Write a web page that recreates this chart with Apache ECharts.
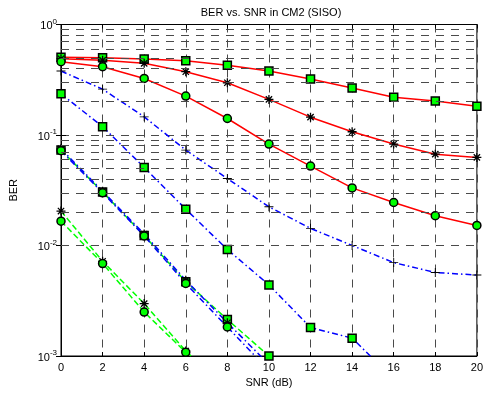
<!DOCTYPE html>
<html>
<head>
<meta charset="utf-8">
<script src="https://cdn.jsdelivr.net/npm/echarts@6/dist/echarts.min.js"></script>
<style>
  html, body { margin: 0; padding: 0; background: #fff; }
  #chart { width: 486px; height: 396px; }
</style>
</head>
<body>
<div id="chart"></div>
<script>
// SNR points (dB)
const snr = [0, 2, 4, 6, 8, 10, 12, 14, 16, 18, 20];

// Red solid curves
const redSquare = [0.505, 0.50, 0.487, 0.47, 0.427, 0.379, 0.321, 0.266, 0.220, 0.203, 0.182];
const redStar   = [0.49, 0.475, 0.445, 0.374, 0.297, 0.21, 0.145, 0.107, 0.0828, 0.0671, 0.0627];
const redCircle = [0.46, 0.415, 0.325, 0.225, 0.141, 0.0827, 0.0523, 0.0332, 0.0245, 0.0186, 0.0152];

// Blue dash-dot curves
const bluePlus   = [0.379, 0.26, 0.146, 0.073, 0.0404, 0.0224, 0.0143, 0.0100, 0.0070, 0.0057, 0.0054];
const blueSquare = [0.236, 0.119, 0.0509, 0.0213, 0.0092, 0.0044, 0.00181, 0.00145, 0.00062];
const blueStar   = [0.075, 0.031, 0.0127, 0.00485, 0.0020, 0.00084];
const blueCircle = [0.072, 0.030, 0.0122, 0.00453, 0.00183, 0.00074];

// Green dashed curves
const greenSquare = [0.073, 0.0305, 0.0123, 0.0047, 0.00214, 0.0010];
const greenStar   = [0.0205, 0.0072, 0.00298, 0.00111, 0.0005];
const greenCircle = [0.0166, 0.00687, 0.0025, 0.00108, 0.00046];

// Log-axis minor gridline positions (2..9 within each decade)
const minorGrid = [];
[0.001, 0.01, 0.1].forEach(d => { for (let k = 2; k <= 9; k++) minorGrid.push(+(k * d).toPrecision(3)); });

const ASTERISK = 'path://M-1.4,-10L1.4,-10L1.4,10L-1.4,10Z' +
  'M-10,-1.4L10,-1.4L10,1.4L-10,1.4Z' +
  'M-6,-8L8,6L6,8L-8,-6Z' +
  'M-8,6L6,-8L8,-6L-6,8Z';
const PLUS = 'path://M-1,-10L1,-10L1,10L-1,10Z M-10,-1L10,-1L10,1L-10,1Z';

const GRID_DASH = [8, 7];
const GRID_COLOR = '#4a4a4a';
const FONT = 'Liberation Sans, Arial, sans-serif';

function pairs(vals) { return vals.map((v, i) => [snr[i], v]); }

function makeSeries(vals, color, dash, marker) {
  const s = {
    type: 'line',
    data: pairs(vals),
    clip: true,
    lineStyle: { color: color, width: 1.5, type: dash },
    itemStyle: { color: '#00ff00', borderColor: '#000', borderWidth: 1.5 },
    symbolSize: 8,
    showSymbol: true,
    animation: false,
    z: 3
  };
  if (marker === 'square') { s.symbol = 'rect'; s.symbolSize = 8; }
  else if (marker === 'circle') { s.symbol = 'circle'; s.symbolSize = 8; }
  else if (marker === 'star') {
    s.symbol = ASTERISK; s.symbolSize = 9;
    s.itemStyle = { color: '#000', borderWidth: 0 };
  } else if (marker === 'plus') {
    s.symbol = PLUS; s.symbolSize = 9;
    s.itemStyle = { color: '#000', borderWidth: 0 };
  }
  return s;
}

const DASHDOT = [6, 3, 1.5, 3];
const DASHED = [6, 3];

const series = [
  {
    type: 'line', data: [], silent: true, animation: false, z: 1,
    markLine: {
      silent: true, symbol: ['none', 'none'], label: { show: false },
      animation: false,
      lineStyle: { type: GRID_DASH, color: GRID_COLOR, width: 1 },
      data: minorGrid.map(v => ({ yAxis: v }))
    }
  },
  makeSeries(redSquare, '#ff0000', 'solid', 'square'),
  makeSeries(redStar, '#ff0000', 'solid', 'star'),
  makeSeries(redCircle, '#ff0000', 'solid', 'circle'),
  makeSeries(bluePlus, '#0000ff', DASHDOT, 'plus'),
  makeSeries(blueSquare, '#0000ff', DASHDOT, 'square'),
  makeSeries(greenSquare, '#00ff00', DASHED, 'square'),
  makeSeries(blueStar, '#0000ff', DASHDOT, 'star'),
  makeSeries(blueCircle, '#0000ff', DASHDOT, 'circle'),
  makeSeries(greenStar, '#00ff00', DASHED, 'star'),
  makeSeries(greenCircle, '#00ff00', DASHED, 'circle')
];

const chart = echarts.init(document.getElementById('chart'), null, { renderer: 'canvas' });
chart.setOption({
  backgroundColor: '#fff',
  animation: false,
  title: {
    text: 'BER vs. SNR in CM2 (SISO)',
    left: 266, top: 2, textAlign: 'center',
    textStyle: { fontFamily: FONT, fontSize: 11, fontWeight: 'normal', color: '#000' }
  },
  grid: { left: 56, right: 8, top: 24.5, bottom: 40, show: true, borderColor: '#000', borderWidth: 1 },
  xAxis: [{
    type: 'value', min: 0, max: 20, interval: 2,
    name: 'SNR (dB)', nameLocation: 'middle', nameGap: 21,
    nameTextStyle: { fontFamily: FONT, fontSize: 11, color: '#000' },
    axisLine: { show: true, lineStyle: { color: '#000', width: 1 } },
    axisTick: { show: true, inside: true, length: 4, lineStyle: { color: '#000' } },
    axisLabel: { fontFamily: FONT, fontSize: 11, color: '#000', margin: 6 },
    splitLine: { show: true, lineStyle: { type: GRID_DASH, color: GRID_COLOR, width: 1 } }
  }, {
    type: 'value', min: 0, max: 20, interval: 2, position: 'top',
    axisLine: { show: true, lineStyle: { color: '#000', width: 1 } },
    axisTick: { show: true, inside: true, length: 4, lineStyle: { color: '#000' } },
    axisLabel: { show: false }, splitLine: { show: false }
  }],
  yAxis: [{
    type: 'log', logBase: 10, min: 0.001, max: 1, splitNumber: 3,
    name: 'BER', nameLocation: 'middle', nameGap: 42, nameRotate: 90,
    nameTextStyle: { fontFamily: FONT, fontSize: 11, color: '#000' },
    axisLine: { show: true, lineStyle: { color: '#000', width: 1 } },
    axisTick: { show: true, inside: true, length: 5, lineStyle: { color: '#000' } },
    axisLabel: {
      margin: 4,
      formatter: v => '{b|10}{s|' + Math.round(Math.log10(v)) + '}',
      rich: {
        b: { fontFamily: FONT, fontSize: 11, color: '#000', lineHeight: 14, verticalAlign: 'middle', padding: [3, 0, 0, 0] },
        s: { fontFamily: FONT, fontSize: 8, color: '#000', lineHeight: 14, verticalAlign: 'middle', padding: [0, 0, 6, 0] }
      }
    },
    splitLine: { show: true, lineStyle: { type: GRID_DASH, color: GRID_COLOR, width: 1 } }
  }, {
    type: 'log', logBase: 10, min: 0.001, max: 1, splitNumber: 3, position: 'right',
    axisLine: { show: true, lineStyle: { color: '#000', width: 1 } },
    axisTick: { show: true, inside: true, length: 5, lineStyle: { color: '#000' } },
    axisLabel: { show: false }, splitLine: { show: false }
  }],
  series: series
});
</script>
</body>
</html>
